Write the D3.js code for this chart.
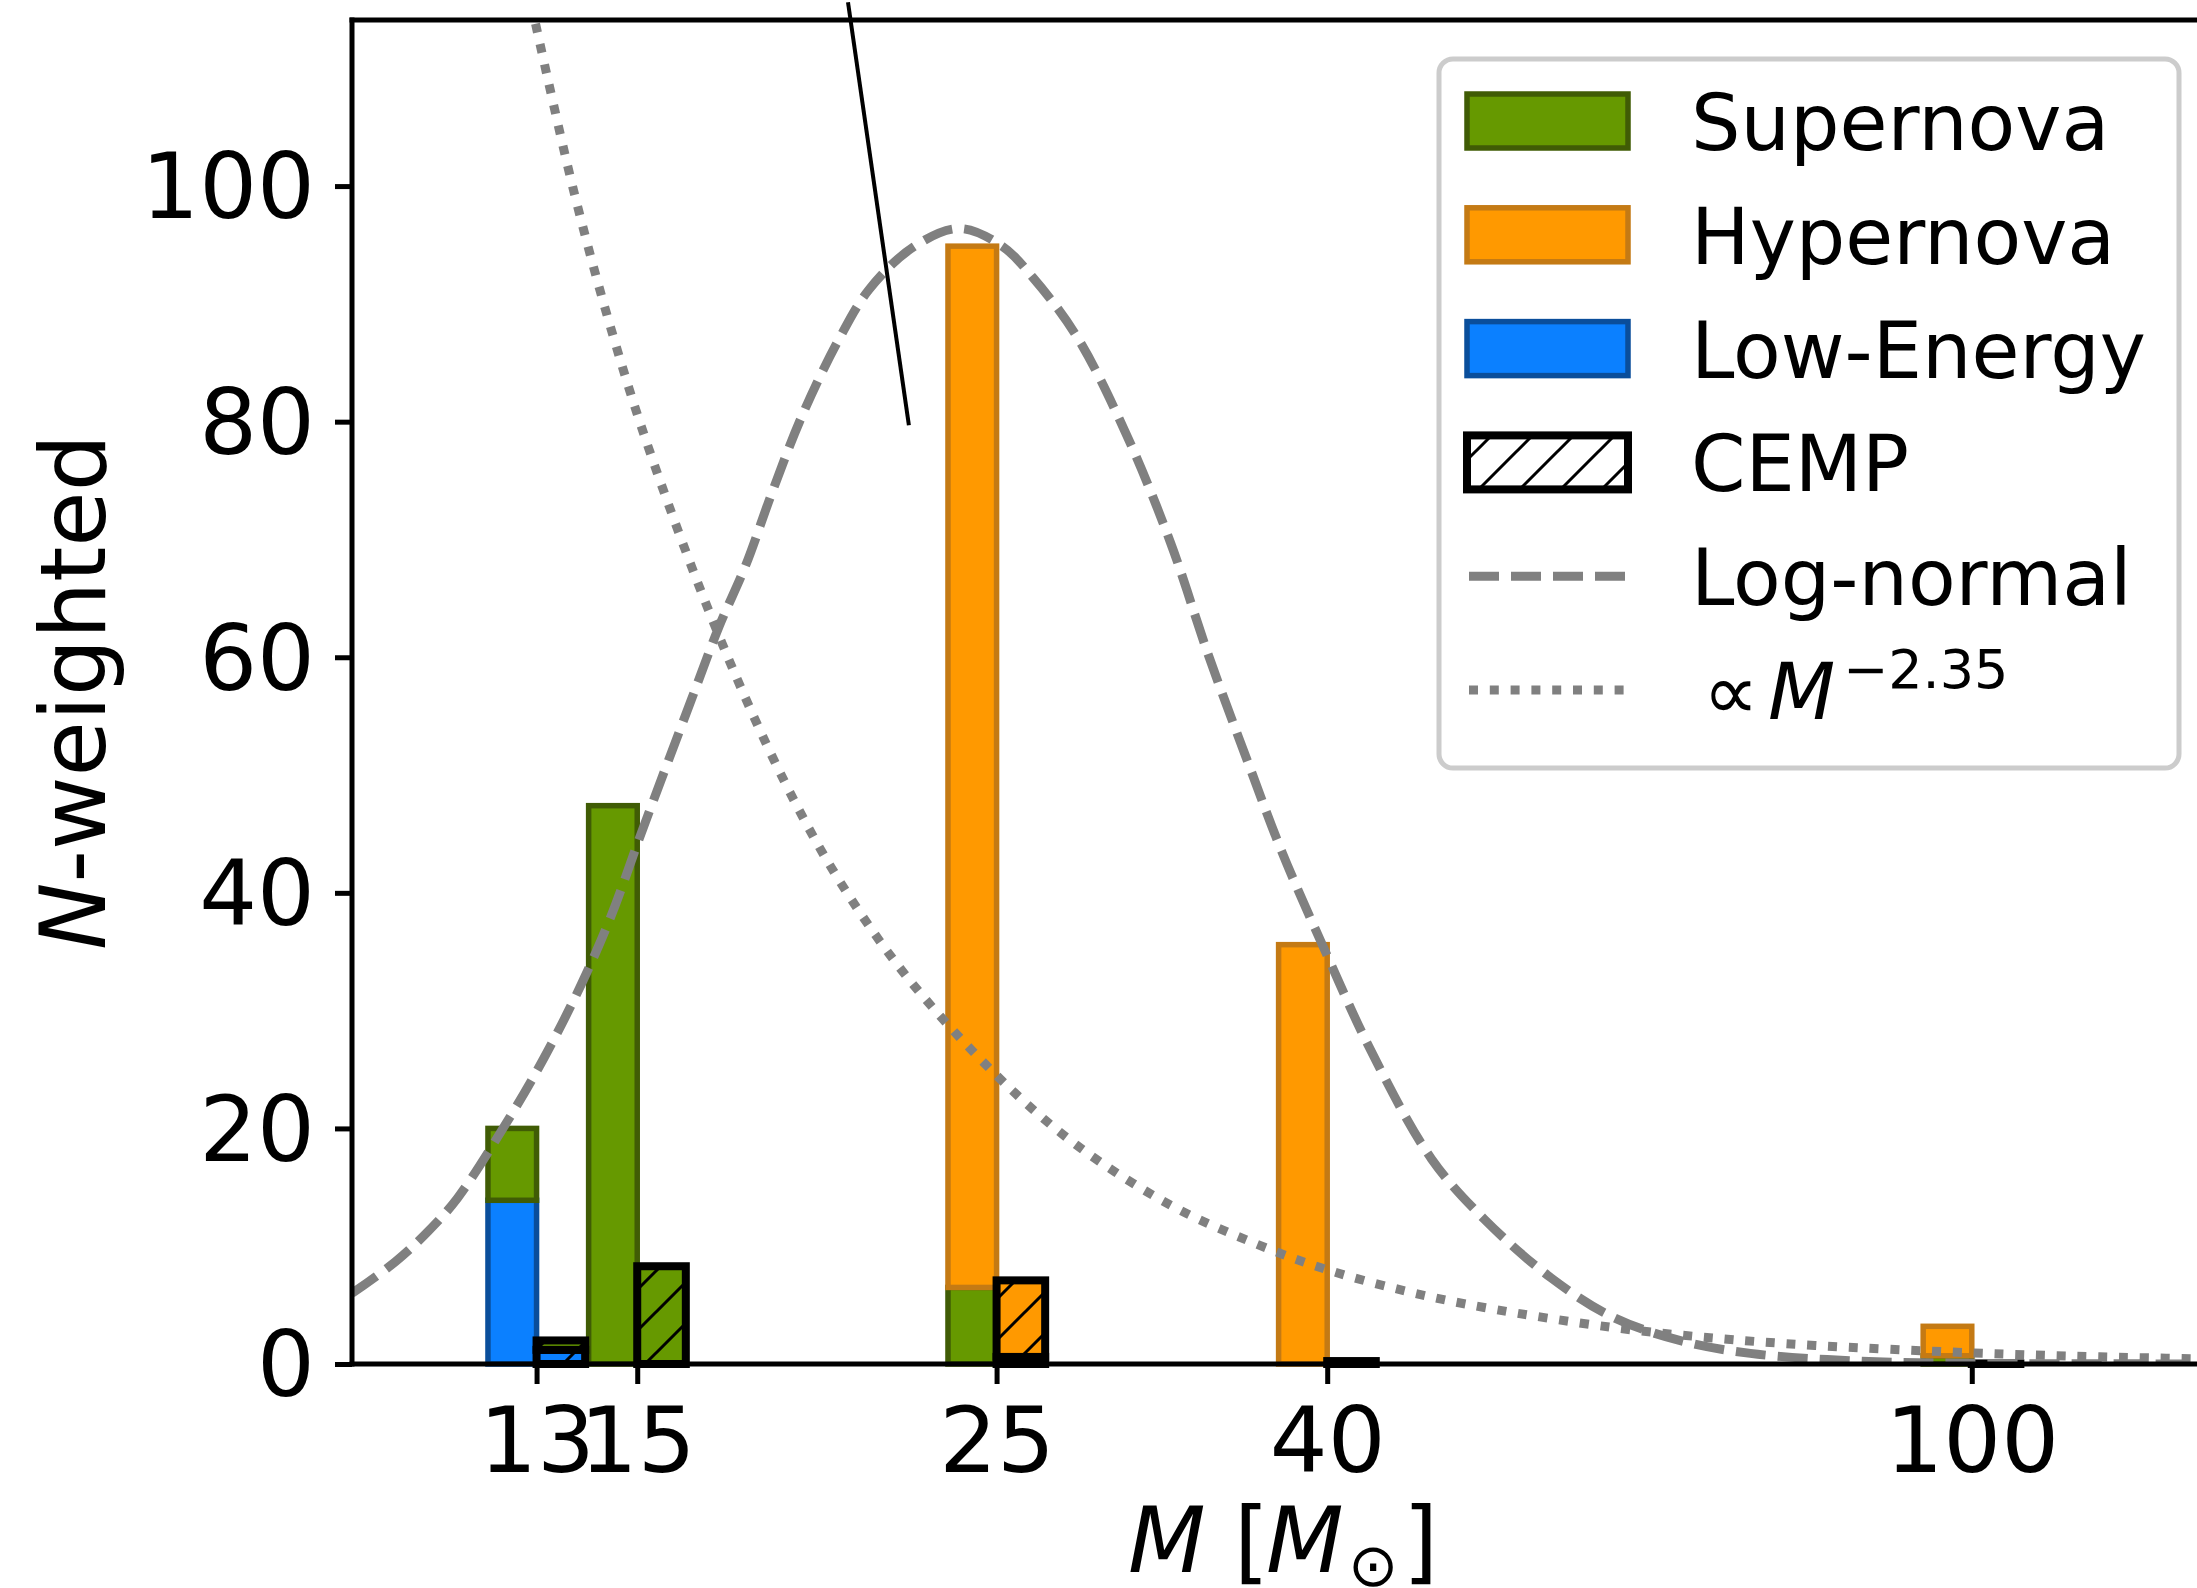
<!DOCTYPE html>
<html>
<head>
<meta charset="utf-8">
<script src="https://cdn.jsdelivr.net/npm/d3@7"></script>
<style>
  html, body { margin: 0; padding: 0; background: #fff; }
  svg { display: block; font-family: "DejaVu Sans", sans-serif; }
</style>
</head>
<body>
<svg id="chart" width="2197" height="1588"></svg>
<script>
// Progenitor masses (Msun) of the yield models
const masses = [13, 15, 25, 40, 100];

// N-weighted number of stars best fit by each explosion type (stacked)
const lowEnergy = [13.9, 0, 0, 0, 0];
const supernova = [6.1, 47.4, 6.5, 0, 0.7];
const hypernova = [0, 0, 88.4, 35.6, 2.5];

// Carbon-enhanced (CEMP) subset, stacked the same way
const cempLowEnergy = [1.2, 0, 0, 0, 0];
const cempSupernova = [0.8, 8.3, 0.6, 0, 0];
const cempHypernova = [0, 0, 6.5, 0.25, 0.05];

// Axis ticks
const yTicks = [0, 20, 40, 60, 80, 100];
const xTicks = [13, 15, 25, 40, 100];

// Log-normal fit to the distribution, sampled along M
const logNormalM = [10, 10.64, 11.15, 11.62, 12.47, 13.14, 13.85, 14.45, 15.08, 16.2, 16.85, 17.5,
  18.17, 18.96, 19.98, 20.85, 22.2, 23.7, 25.2, 26.3, 28, 30, 32, 33.8, 35.8, 37.5, 39.9, 42.6,
  46.4, 50, 55, 60, 66, 73, 85, 100, 130, 150];
const logNormalN = [6.0, 8.7, 11.3, 14.1, 20.6, 26.0, 32.2, 38.0, 45.0, 56.4, 62.6, 67.8,
  74.0, 80.5, 87.0, 91.2, 94.8, 96.4, 94.9, 92.3, 87.3, 79.2, 69.8, 60.1, 50.8, 43.5, 35.0, 26.5,
  17.4, 12.3, 7.3, 4.0, 2.0, 0.9, 0.25, 0.06, 0.01, 0];

// Salpeter-like power law (proportional to M^-2.35), sampled along M
const powerLawM = [12.9, 13.71, 14.5, 15.32, 16.85, 18.5, 20, 22, 25, 28, 32, 36, 40, 45, 50,
  60, 70, 80, 100, 120, 150];
const powerLawN = [115.5, 99.5, 87.2, 76.9, 61.8, 49.4, 41.0, 32.9, 24.5, 18.6, 13.5, 10.3, 8.0,
  6.1, 4.8, 3.1, 2.15, 1.58, 0.95, 0.61, 0.36];

// Pointer line coming down from above the panel
const pointerM = [20.24, 22.07];
const pointerN = [115.6, 79.7];

// Legend entries
const legendLabels = ["Supernova", "Hypernova", "Low-Energy", "CEMP", "Log-normal", "powerlaw"];

// ---------------------------------------------------------------------------
const svg = d3.select("#chart");
const FONT = "DejaVu Sans";

const x = d3.scaleLog().domain([10, 150]).range([352, 2257]);
const y = d3.scaleLinear().domain([0, 114.1]).range([1364, 20]);

const palette = {
  le: { fill: "#0b80ff", edge: "#0a4e9b" },
  sn: { fill: "#669900", edge: "#405c05" },
  hn: { fill: "#ff9900", edge: "#c47a14" }
};
const keys = ["le", "sn", "hn"];

const DASHED = "30 12";
const DOTTED = "9 11.8";
const CURVE_W = 9;

const defs = svg.append("defs");
defs.append("clipPath").attr("id", "plotArea")
  .append("rect")
  .attr("x", x.range()[0]).attr("y", y.range()[1])
  .attr("width", x.range()[1] - x.range()[0])
  .attr("height", y.range()[0] - y.range()[1]);

const hatch = defs.append("pattern")
  .attr("id", "hatch")
  .attr("patternUnits", "userSpaceOnUse")
  .attr("width", 41).attr("height", 41);
hatch.append("path")
  .attr("d", "M-10,10 L10,-10 M0,41 L41,0 M31,51 L51,31")
  .attr("stroke", "#000").attr("stroke-width", 3).attr("fill", "none");

// Bars: each spans a fixed width in log space, main bars left of the tick,
// CEMP bars right of it.
const barRatio = Math.pow(10, 0.03);
const stack = d3.stack().keys(keys);

function rowsFrom(a, b, c) {
  return masses.map((m, i) => ({ m, le: a[i], sn: b[i], hn: c[i] }));
}

const bars = svg.append("g");

function drawStack(rows, cemp) {
  stack(rows).forEach(layer => {
    const key = layer.key;
    layer.forEach(seg => {
      if (seg[1] - seg[0] <= 0) return;
      const m = seg.data.m;
      const xa = cemp ? x(m) : x(m / barRatio);
      const xb = cemp ? x(m * barRatio) : x(m);
      const ya = y(seg[1]);
      const h = y(seg[0]) - y(seg[1]);
      bars.append("rect")
        .attr("x", xa).attr("y", ya).attr("width", xb - xa).attr("height", h)
        .attr("fill", palette[key].fill)
        .attr("stroke", cemp ? "none" : palette[key].edge)
        .attr("stroke-width", 5.5);
      if (cemp) {
        bars.append("rect")
          .attr("x", xa).attr("y", ya).attr("width", xb - xa).attr("height", h)
          .attr("fill", "url(#hatch)");
        bars.append("rect")
          .attr("x", xa).attr("y", ya).attr("width", xb - xa).attr("height", h)
          .attr("fill", "none").attr("stroke", "#000").attr("stroke-width", 8);
      }
    });
  });
}

drawStack(rowsFrom(lowEnergy, supernova, hypernova), false);
drawStack(rowsFrom(cempLowEnergy, cempSupernova, cempHypernova), true);

// Model curves
const line = d3.line().x(d => x(d[0])).y(d => y(d[1])).curve(d3.curveCatmullRom);
const curves = svg.append("g").attr("clip-path", "url(#plotArea)");

curves.append("path")
  .attr("d", line(logNormalM.map((m, i) => [m, logNormalN[i]])))
  .attr("fill", "none").attr("stroke", "#808080").attr("stroke-width", CURVE_W)
  .attr("stroke-dasharray", DASHED);

curves.append("path")
  .attr("d", line(powerLawM.map((m, i) => [m, powerLawN[i]])))
  .attr("fill", "none").attr("stroke", "#808080").attr("stroke-width", CURVE_W)
  .attr("stroke-dasharray", DOTTED);

// Pointer line
svg.append("line")
  .attr("x1", x(pointerM[0])).attr("y1", y(pointerN[0]))
  .attr("x2", x(pointerM[1])).attr("y2", y(pointerN[1]))
  .attr("stroke", "#000").attr("stroke-width", 4);

// Axes
const yAxis = d3.axisLeft(y).tickValues(yTicks).tickSize(17).tickPadding(20);
const gy = svg.append("g")
  .attr("transform", `translate(${x.range()[0]},0)`)
  .call(yAxis)
  .attr("font-size", 91).attr("font-family", FONT);
gy.select(".domain").remove();
gy.selectAll(".tick line").attr("stroke", "#000").attr("stroke-width", 5);
gy.selectAll(".tick text").attr("fill", "#000").attr("dy", "0.35em");

const xAxis = d3.axisBottom(x).tickValues(xTicks).tickFormat(d3.format("d"))
  .tickSize(20).tickPadding(23);
const gx = svg.append("g")
  .attr("transform", `translate(0,${y(0)})`)
  .call(xAxis)
  .attr("font-size", 91).attr("font-family", FONT);
gx.select(".domain").remove();
gx.selectAll(".tick line").attr("stroke", "#000").attr("stroke-width", 5);
gx.selectAll(".tick text").attr("fill", "#000");

// Spines (left, bottom, top)
const [x0, x1] = x.range();
const [yb, yt] = y.range();
const spines = svg.append("g").attr("stroke", "#000").attr("stroke-width", 5)
  .attr("stroke-linecap", "square");
spines.append("line").attr("x1", x0).attr("x2", x0).attr("y1", yt).attr("y2", yb);
spines.append("line").attr("x1", x0).attr("x2", x1).attr("y1", yb).attr("y2", yb);
spines.append("line").attr("x1", x0).attr("x2", x1).attr("y1", yt).attr("y2", yt);

// Axis labels
const yLab = svg.append("text")
  .attr("transform", "translate(105,692) rotate(-90)")
  .attr("text-anchor", "middle")
  .attr("font-family", FONT).attr("font-size", 90).attr("fill", "#000");
yLab.append("tspan").attr("font-style", "italic").text("N");
yLab.append("tspan").text("-weighted");

const xLab = svg.append("text")
  .attr("y", 1572)
  .attr("font-family", FONT).attr("font-size", 90).attr("fill", "#000");
xLab.append("tspan").attr("x", 1128).attr("font-style", "italic").text("M");
xLab.append("tspan").attr("x", 1234).text("[");
xLab.append("tspan").attr("x", 1266).attr("font-style", "italic").text("M");
xLab.append("tspan").attr("x", 1348).attr("dy", 14).attr("font-size", 60).text("\u2299");
xLab.append("tspan").attr("x", 1403).attr("dy", -14).text("]");

// Legend
const legend = svg.append("g");
legend.append("rect")
  .attr("x", 1439).attr("y", 59).attr("width", 740).attr("height", 709)
  .attr("rx", 14).attr("ry", 14)
  .attr("fill", "#fff").attr("fill-opacity", 0.8)
  .attr("stroke", "#cccccc").attr("stroke-width", 5);

const hx0 = 1467, hx1 = 1628, rowTop = 121, rowStep = 113.8, patchH = 54;
legendLabels.forEach((label, i) => {
  const cy = rowTop + rowStep * i;
  if (i < 3) {
    const k = ["sn", "hn", "le"][i];
    legend.append("rect")
      .attr("x", hx0).attr("y", cy - patchH / 2).attr("width", hx1 - hx0).attr("height", patchH)
      .attr("fill", palette[k].fill).attr("stroke", palette[k].edge).attr("stroke-width", 5.5);
  } else if (i === 3) {
    legend.append("rect")
      .attr("x", hx0).attr("y", cy - patchH / 2).attr("width", hx1 - hx0).attr("height", patchH)
      .attr("fill", "#fff");
    legend.append("rect")
      .attr("x", hx0).attr("y", cy - patchH / 2).attr("width", hx1 - hx0).attr("height", patchH)
      .attr("fill", "url(#hatch)").attr("stroke", "#000").attr("stroke-width", 8);
  } else {
    legend.append("line")
      .attr("x1", hx0 + 2).attr("x2", hx1 - 3).attr("y1", cy).attr("y2", cy)
      .attr("stroke", "#808080").attr("stroke-width", CURVE_W)
      .attr("stroke-dasharray", i === 4 ? DASHED : DOTTED);
  }
  const t = legend.append("text")
    .attr("y", cy + 29)
    .attr("font-family", FONT).attr("font-size", 78).attr("fill", "#000");
  if (label === "powerlaw") {
    t.append("tspan").attr("x", 1703).text("\u221D");
    t.append("tspan").attr("x", 1768).attr("font-style", "italic").text("M");
    t.append("tspan").attr("x", 1843).attr("dy", -31).attr("font-size", 54).text("\u22122.35");
  } else {
    t.attr("x", 1691).text(label);
  }
});
</script>
</body>
</html>
